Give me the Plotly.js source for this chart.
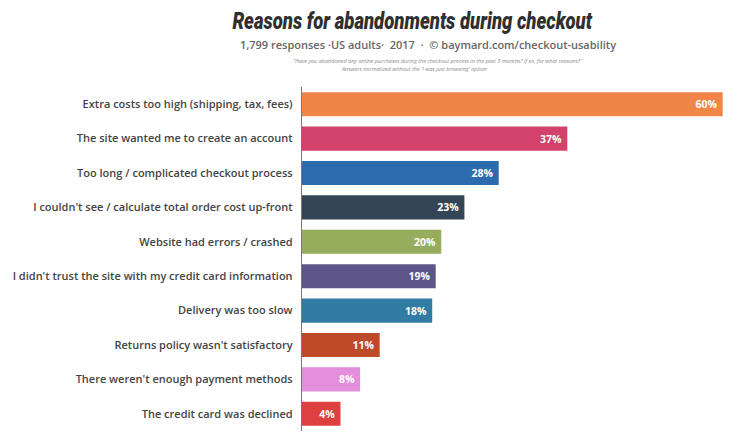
<!DOCTYPE html>
<html>
<head>
<meta charset="utf-8">
<script src="https://cdn.plot.ly/plotly-3.0.1.min.js"></script>
<style>html,body{margin:0;padding:0;background:#fff;}#chart{width:750px;height:446px;}</style>
</head>
<body>
<div id="chart"></div>
<script>
const categories = [
  "Extra costs too high (shipping, tax, fees)",
  "The site wanted me to create an account",
  "Too long / complicated checkout process",
  "I couldn't see / calculate total order cost up-front",
  "Website had errors / crashed",
  "I didn't trust the site with my credit card information",
  "Delivery was too slow",
  "Returns policy wasn't satisfactory",
  "There weren't enough payment methods",
  "The credit card was declined"
];
const values = [60.1, 37.9, 28.1, 23.2, 19.9, 19.1, 18.6, 11.1, 8.3, 5.5];
const valueLabels = ["60%", "37%", "28%", "23%", "20%", "19%", "18%", "11%", "8%", "4%"];
const colors = ["#EF8648", "#D2426A", "#2C6BAE", "#344555", "#97AD5E", "#5E5589", "#327CA3", "#BF4A2A", "#E38FDC", "#DE403F"];

const L = 302, R = 21, T = 87, B = 15, W = 750, H = 446;
const pw = W - L - R, ph = H - T - B;
const px = x => (x - L) / pw;
const py = y => (H - B - y) / ph;

const trace = {
  type: "bar",
  orientation: "h",
  y: categories,
  x: values,
  text: valueLabels,
  texttemplate: "%{text}\u00a0",
  textposition: "inside",
  insidetextanchor: "end",
  textfont: {family: "Open Sans, sans-serif", size: 10.5, color: "#ffffff", weight: 700},
  marker: {color: colors},
  hoverinfo: "none",
  cliponaxis: false
};

const layout = {
  width: W, height: H,
  margin: {l: L, r: R, t: T, b: B, pad: 0},
  paper_bgcolor: "#ffffff",
  plot_bgcolor: "#ffffff",
  showlegend: false,
  bargap: 0.30,
  xaxis: {range: [0, 61], visible: false, fixedrange: true},
  yaxis: {
    autorange: "reversed",
    showline: true, linecolor: "#777777", linewidth: 1.2,
    showgrid: false, zeroline: false, ticks: "",
    ticklabelstandoff: 6,
    tickfont: {family: "Open Sans, sans-serif", size: 11, color: "#444444", weight: 600}
  },
  annotations: [
    {text: "Reasons for abandonments during checkout", xref: "paper", yref: "paper",
     x: px(412), y: py(21), xanchor: "center", yanchor: "middle", showarrow: false,
     font: {family: "Roboto, sans-serif", weight: 900, style: "italic", size: 23, color: "#2f2f2f"}},
    {text: "1,799 responses ·US adults·  2017  ·  © baymard.com/checkout-usability", xref: "paper", yref: "paper",
     x: px(428), y: py(44), xanchor: "center", yanchor: "middle", showarrow: false,
     font: {family: "Open Sans, sans-serif", size: 11, color: "#666666", weight: 600}},
    {text: "<i>\u201cHave you abandoned any online purchases during the checkout process in the past 3 months? If so, for what reasons?\u201d</i>", xref: "paper", yref: "paper",
     x: px(438), y: py(61), xanchor: "center", yanchor: "middle", showarrow: false,
     font: {family: "Open Sans, sans-serif", size: 5.5, color: "#8a8a8a"}},
    {text: "<i>Answers normalized without the 'I was just browsing' option</i>", xref: "paper", yref: "paper",
     x: px(414), y: py(69), xanchor: "center", yanchor: "middle", showarrow: false,
     font: {family: "Open Sans, sans-serif", size: 5.5, color: "#8a8a8a"}}
  ]
};

Plotly.newPlot("chart", [trace], layout, {displayModeBar: false, staticPlot: true}).then(function () {
  // condense the title horizontally to mimic the narrow display face of the original
  const t = document.querySelector('.annotation[data-index="0"] text.annotation-text');
  if (t) {
    const bb = t.getBBox();
    const s = 361 / bb.width;
    const cx = bb.x + bb.width / 2;
    t.setAttribute("transform", "translate(" + cx + ",0) scale(" + s + ",1) translate(" + (-cx) + ",0)");
  }
});
</script>
</body>
</html>
